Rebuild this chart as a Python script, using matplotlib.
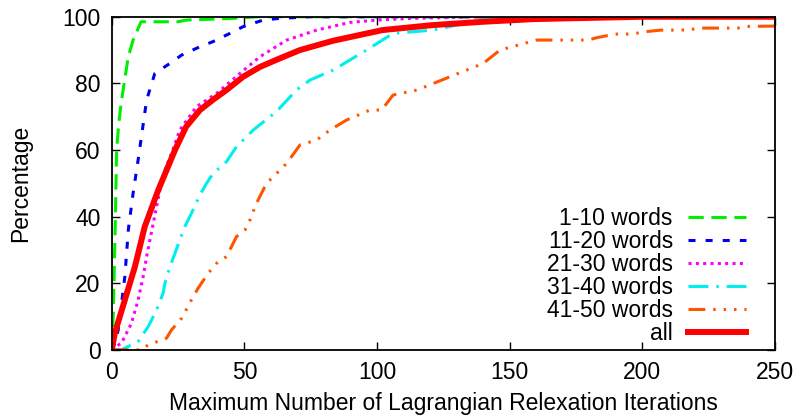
import numpy as np
import matplotlib.pyplot as plt

plt.rcParams['font.family'] = ['Liberation Sans', 'DejaVu Sans']

labels = ["1-10 words", "11-20 words", "21-30 words", "31-40 words", "41-50 words", "all"]

x1 = [0, 0.5, 1.2, 1.8, 2.6, 3.5, 4.8, 6.2, 8, 11, 25, 28, 45, 55, 250]
y1 = [0, 10, 35, 60, 68, 74, 81, 88, 93, 98.5, 98.5, 99, 99.5, 100, 100]

x2 = [0, 1.1, 2.4, 4.9, 6.2, 8, 9.9, 11.5, 13.1, 16.2, 21.9, 26.3, 33.2, 38, 44.5, 49.4, 57, 63, 75, 250]
y2 = [0, 2, 6, 22, 36, 47, 57, 66, 75, 83, 86, 88.5, 91, 92.5, 95, 97, 99, 99.5, 100, 100]

x3 = [0, 0.5, 3.6, 7.4, 9.9, 11.8, 13.1, 15.6, 18.1, 20, 22.5, 25.6, 31.9, 39.5, 48.3, 55.8, 65.9,
      77.2, 89.7, 99.8, 112, 140, 250]
y3 = [0, 0.5, 2, 8, 15, 22, 28, 38, 48, 54, 59, 66, 73, 77, 83, 88, 93,
      96, 98.3, 99, 99.5, 100, 100]

x4 = [0, 3.6, 9.9, 13.7, 16.9, 19.3, 20, 21.9, 23.8, 25.6, 27.5, 30, 33.2, 35.7, 38.2, 43.2,
      47, 53.3, 62, 69.6, 74.7, 83.4, 89.7, 96, 106, 121, 127, 145, 250]
y4 = [0, 0, 2.5, 7, 12, 17, 20, 25, 29, 33, 37, 41, 46.5, 50, 53, 56.5,
      61, 66, 71.5, 78, 81, 84, 87, 90, 95, 96, 97, 100, 100]

x5 = [0, 11.2, 13.7, 20.6, 22.5, 26.3, 30, 32.5, 36.3, 39.5, 43.2, 45.1, 47, 50.2, 52.7,
      53.9, 56.4, 58.3, 60.9, 65.9, 70.9, 77.2, 82.2, 88.5, 97.3, 101.7, 106, 115, 127.5,
      140, 146.3, 160, 179.6, 182.7, 186.5, 190.3, 196.6, 199.7, 207, 214, 218, 221, 236,
      238.7, 250]
y5 = [0, 0, 1.5, 3.5, 6, 9.5, 15, 18.5, 23, 26, 28, 31, 34, 36, 40,
      43, 47, 50, 52, 56, 61.5, 63, 66, 69, 72, 72, 76.5, 78, 82,
      86, 90, 93, 93, 93.7, 94.3, 94.8, 94.8, 95.4, 96, 96, 96.1, 96.6, 96.6,
      97.1, 97.2]

x6 = [0, 1.1, 4.9, 8.7, 12.4, 17.5, 23.8, 28, 33.2, 38, 43.2, 49.5, 56, 63.3, 70.9,
      83.4, 102, 121, 140, 159, 200, 250]
y6 = [0, 5, 15, 25, 37, 48, 60, 67, 72, 75, 78, 82, 85, 87.5, 90,
      92.8, 96, 97.5, 98.5, 99.3, 100, 100]

fig = plt.figure(figsize=(7.99, 4.19), dpi=100)
ax = fig.add_axes([0.140, 0.165, 0.830, 0.795])

ax.plot(x1, y1, color="#00ee00", lw=2.2, ls=(0, (5, 2.5)), label=labels[0])
ax.plot(x2, y2, color="#0000ee", lw=2.2, ls=(0, (2.3, 3.3)), label=labels[1])
ax.plot(x3, y3, color="#ff00ff", lw=2.2, ls=(0, (1, 1.4)), label=labels[2])
ax.plot(x4, y4, color="#00eeee", lw=2.2, ls=(0, (6.5, 2.6, 0.8, 2.6)), label=labels[3])
ax.plot(x5, y5, color="#ff5500", lw=2.2,
        ls=(0, (5.5, 2.6, 0.8, 2.6, 0.8, 2.6, 0.8, 2.6)), label=labels[4])
ax.plot(x6, y6, color="#ff0000", lw=4.3, label=labels[5])

ax.set_xlim(0, 250)
ax.set_ylim(0, 100)
ax.set_xticks(np.arange(0, 251, 50))
ax.set_yticks(np.arange(0, 101, 20))
ax.tick_params(direction="in", length=6, width=1, labelsize=16.5, top=True, right=True, pad=8)
for s in ax.spines.values():
    s.set_linewidth(1.3)

ax.set_xlabel("Maximum Number of Lagrangian Relexation Iterations", fontsize=16.5, labelpad=6)
ax.set_ylabel("Percentage", fontsize=16.5, labelpad=22)

leg = ax.legend(loc="lower right", bbox_to_anchor=(0.979, -0.03), frameon=False,
                markerfirst=False, fontsize=16.5, handlelength=2.55, handletextpad=0.65,
                labelspacing=0.0, borderaxespad=0.25)

fig.savefig("out.png", dpi=100)
